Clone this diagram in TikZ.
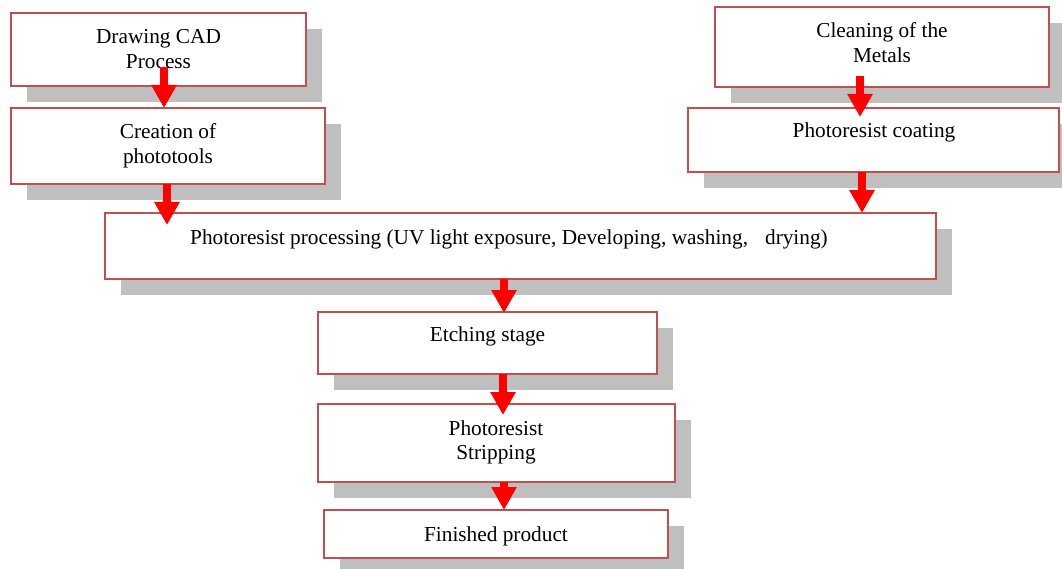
\documentclass[tikz,border=0pt]{standalone}
\usepackage{fontspec}
\setmainfont{Liberation Serif}
\usetikzlibrary{arrows.meta,shadows}
\definecolor{boxred}{HTML}{C0504D}
\definecolor{shadowgray}{HTML}{BFBFBF}
\definecolor{arrred}{HTML}{FF0000}
\newcommand{\twolines}[2]{\begin{tabular}[t]{@{}c@{}}#1\\#2\end{tabular}}
\tikzset{
  stepbox/.style={draw=boxred, line width=2pt, fill=white, rectangle,
    inner sep=0pt, outer sep=0pt, anchor=north west,
    drop shadow={shadow xshift=16pt, shadow yshift=-16pt, fill=shadowgray, opacity=1, draw=none}},
  txt/.style={inner sep=0pt, anchor=base, font=\fontsize{21.3}{24.6}\selectfont},
  flowarrow/.style={draw=arrred, line width=8pt, -{Triangle[width=24pt,length=23pt,fill=arrred]}}
}
\begin{document}
\begin{tikzpicture}[x=1pt,y=-1pt]
\useasboundingbox (0,0) rectangle (1062,569);
% boxes
\node[stepbox, minimum width=295pt, minimum height=73pt] (b1) at (11,13) {};
\node[stepbox, minimum width=314pt, minimum height=76pt] (b2) at (11,108) {};
\node[stepbox, minimum width=334pt, minimum height=80pt] (b3) at (715,7) {};
\node[stepbox, minimum width=371pt, minimum height=64pt] (b4) at (688,108) {};
\node[stepbox, minimum width=831pt, minimum height=66pt] (b5) at (105,213) {};
\node[stepbox, minimum width=339pt, minimum height=62pt] (b6) at (318,312) {};
\node[stepbox, minimum width=357pt, minimum height=78pt] (b7) at (318,404) {};
\node[stepbox, minimum width=344pt, minimum height=48pt] (b8) at (324,510) {};
% texts
\node[txt] (t1) at (158.5,43.5) {\twolines{Drawing CAD}{Process}};
\node[txt] (t2) at (168,139) {\twolines{Creation of}{phototools}};
\node[txt] (t3) at (882,37.5) {\twolines{Cleaning of the}{Metals}};
\node[txt] (t4) at (874,138) {Photoresist coating};
\node[txt] (t5) at (509,244) {Photoresist processing (UV light exposure, Developing, washing,\hspace{17pt}drying)};
\node[txt] (t6) at (487.5,341) {Etching stage};
\node[txt] (t7) at (496,435) {\twolines{Photoresist}{Stripping}};
\node[txt] (t8) at (496,541) {Finished product};
% arrows
\draw[flowarrow] ([xshift=5.5pt,yshift=19pt]b1.south) -- ([xshift=-4pt]b2.north);
\draw[flowarrow] ([xshift=-1pt]b2.south) -- ([xshift=62pt,yshift=-12pt]b5.north west);
\draw[flowarrow] ([xshift=-22pt,yshift=11pt]b3.south) -- ([xshift=-13.5pt,yshift=-9pt]b4.north);
\draw[flowarrow] ([xshift=-11.5pt]b4.south) -- ([xshift=-74pt]b5.north east);
\draw[flowarrow] ([xshift=-16.5pt]b5.south) -- ([xshift=16.5pt,yshift=-1pt]b6.north);
\draw[flowarrow] ([xshift=15.5pt]b6.south) -- ([xshift=6.5pt,yshift=-11pt]b7.north);
\draw[flowarrow] ([xshift=7.5pt]b7.south) -- ([xshift=8pt]b8.north);
\end{tikzpicture}
\end{document}
